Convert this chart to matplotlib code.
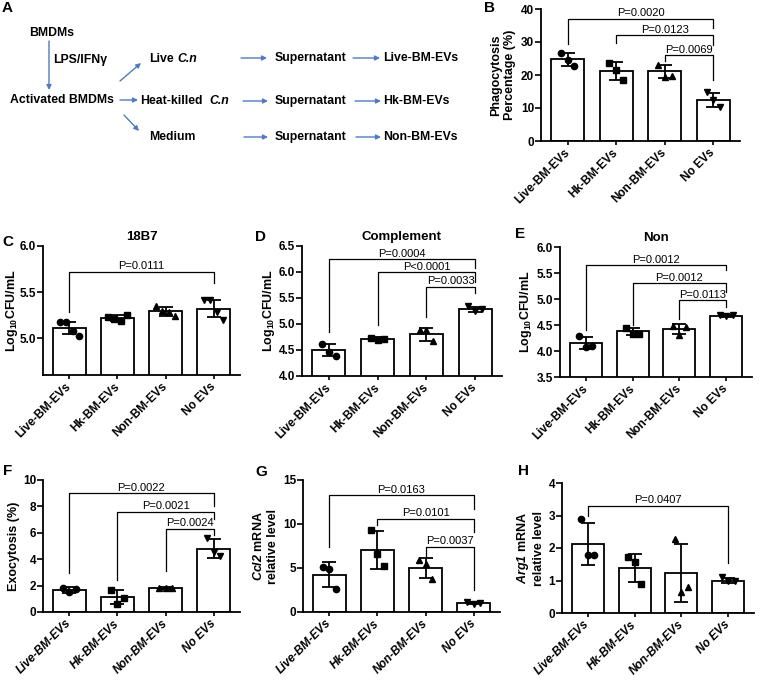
import numpy as np
import matplotlib
matplotlib.use("Agg")
import matplotlib.pyplot as plt

plt.rcParams["font.family"] = ["Liberation Sans", "DejaVu Sans"]
plt.rcParams["mathtext.fontset"] = "custom"
plt.rcParams["mathtext.rm"] = "Liberation Sans"
plt.rcParams["mathtext.bf"] = "Liberation Sans:bold"
plt.rcParams["mathtext.it"] = "Liberation Sans:italic"
plt.rcParams["mathtext.bfit"] = "Liberation Sans:italic:bold"

groups = ["Live-BM-EVs", "Hk-BM-EVs", "Non-BM-EVs", "No EVs"]

# B: phagocytosis
phago_mean = [24.8, 21.2, 21.1, 12.4]
phago_sd = [2.0, 2.8, 1.9, 2.2]
phago_pts = [[26.8, 24.5, 22.7], [23.7, 21.5, 18.5], [23.0, 19.4, 19.8], [14.9, 12.4, 10.4]]
phago_br = [(0, 3, 37.0, 29.4, 34.3, "P=0.0020"), (1, 3, 32.0, 29.6, 29.0, "P=0.0123"),
            (2, 3, 26.0, 24.2, 18.5, "P=0.0069")]

# C: 18B7
cfu_18b7_mean = [5.11, 5.22, 5.29, 5.32]
cfu_18b7_sd = [0.065, 0.03, 0.05, 0.095]
cfu_18b7_pts = [[5.18, 5.17, 5.08, 5.02], [5.23, 5.21, 5.19, 5.25],
                [5.35, 5.30, 5.28, 5.24], [5.41, 5.41, 5.28, 5.20]]
cfu_18b7_br = [(0, 3, 5.72, 5.28, 5.60, "P=0.0111")]

# D: complement
cfu_comp_mean = [4.50, 4.72, 4.80, 5.28]
cfu_comp_sd = [0.12, 0.03, 0.12, 0.05]
cfu_comp_pts = [[4.61, 4.47, 4.38], [4.74, 4.70, 4.72], [4.88, 4.88, 4.68], [5.34, 5.25, 5.29]]
cfu_comp_br = [(0, 3, 6.25, 4.85, 6.07, "P=0.0004"), (1, 3, 6.0, 4.98, 5.80, "P<0.0001"),
               (2, 3, 5.72, 5.14, 5.59, "P=0.0033")]

# E: non-opsonized
cfu_non_mean = [4.15, 4.38, 4.42, 4.67]
cfu_non_sd = [0.11, 0.065, 0.10, 0.02]
cfu_non_pts = [[4.28, 4.08, 4.10], [4.45, 4.33, 4.33], [4.48, 4.30, 4.46], [4.70, 4.68, 4.70]]
cfu_non_br = [(0, 3, 5.65, 4.40, 5.55, "P=0.0012"), (1, 3, 5.30, 4.50, 5.14, "P=0.0012"),
              (2, 3, 4.98, 4.62, 4.84, "P=0.0113")]

# F: exocytosis
exo_mean = [1.69, 1.13, 1.81, 4.80]
exo_sd = [0.22, 0.53, 0.05, 0.70]
exo_pts = [[1.80, 1.50, 1.75], [1.70, 0.63, 1.06], [1.80, 1.82, 1.80], [5.60, 4.55, 4.25]]
exo_br = [(0, 3, 9.0, 2.95, 8.0, "P=0.0022"), (1, 3, 7.6, 2.4, 7.05, "P=0.0021"),
          (2, 3, 6.3, 3.1, 5.85, "P=0.0024")]

# G: Ccl2
ccl2_mean = [4.23, 7.04, 5.0, 1.04]
ccl2_sd = [1.4, 2.2, 1.15, 0.12]
ccl2_pts = [[5.1, 4.9, 2.6], [9.3, 6.6, 5.2], [5.9, 5.5, 3.7], [1.15, 0.95, 1.02]]
ccl2_br = [(0, 3, 13.3, 7.4, 11.7, "P=0.0163"), (1, 3, 10.6, 9.9, 9.1, "P=0.0101"),
           (2, 3, 7.4, 6.3, 2.5, "P=0.0037")]

# H: Arg1
arg1_mean = [2.12, 1.39, 1.24, 1.00]
arg1_sd = [0.65, 0.43, 0.89, 0.07]
arg1_pts = [[2.88, 1.77, 1.77], [1.71, 1.58, 0.90], [2.28, 0.65, 0.80], [1.10, 0.98, 1.00]]
arg1_br = [(0, 3, 3.3, 2.97, 1.53, "P=0.0407")]

W, H = 760, 683
fig = plt.figure(figsize=(W / 100, H / 100), dpi=100)
markers = ["o", "s", "^", "v"]
jit = {3: [-0.14, 0.0, 0.14], 4: [-0.2, -0.07, 0.07, 0.2]}
blue = "#4a7bd0"


def add_ax(x0, x1, y0, y1):
    return fig.add_axes([x0 / W, 1 - y1 / H, (x1 - x0) / W, (y1 - y0) / H])


def bar_panel(ax, mean, sd, pts, brs, ylim, yticks, ylabel, lx, title=None, italic=False):
    x = np.arange(len(groups))
    ax.bar(x, mean, width=0.68, color="white", edgecolor="black", linewidth=1.3, zorder=1)
    ax.errorbar(x, mean, yerr=sd, fmt="none", ecolor="black", elinewidth=1.3,
                capsize=5, capthick=1.3, zorder=3)
    for i, p in enumerate(pts):
        ax.plot(x[i] + np.array(jit[len(p)]), p, markers[i], color="black", ms=4.5,
                ls="none", zorder=4, clip_on=False)
    for i, j, top, lb, rb, lab in brs:
        ax.plot([i, i, j, j], [lb, top, top, rb], color="black", lw=0.9, clip_on=False)
        ax.annotate(lab, xy=((i + j) / 2, top), xytext=(0, 0.3), textcoords="offset points",
                    ha="center", va="bottom", fontsize=8)
    ax.set_xlim(-0.55, 3.55)
    ax.set_ylim(*ylim)
    ax.set_yticks(yticks)
    ax.set_xticks(x)
    ax.set_xticklabels(groups, rotation=45, ha="right", va="center", rotation_mode="anchor",
                       fontweight="bold", fontsize=8.5, fontstyle="italic" if italic else "normal")
    for t in ax.get_yticklabels():
        t.set_fontweight("bold")
        t.set_fontsize(8.5)
    ax.tick_params(axis="x", length=3, width=1.2, pad=4)
    ax.tick_params(axis="y", length=4, width=1.2, pad=1)
    ax.spines["top"].set_visible(False)
    ax.spines["right"].set_visible(False)
    ax.spines["left"].set_linewidth(1.3)
    ax.spines["bottom"].set_linewidth(1.3)
    ax.set_ylabel(ylabel, fontweight="bold", fontsize=9)
    ax.yaxis.set_label_coords(lx, 0.5)
    ax.yaxis.label.set_va("center")
    if title:
        ax.set_title(title, fontweight="bold", fontsize=9.5, pad=4)


logcfu = r"Log$_\mathbf{10}$CFU/mL"

ax_b = add_ax(541, 740, 9, 141)
bar_panel(ax_b, phago_mean, phago_sd, phago_pts, phago_br, (0, 40), [0, 10, 20, 30, 40],
          "Phagocytosis\nPercentage (%)", -0.19)
ax_c = add_ax(43, 240, 246, 375)
bar_panel(ax_c, cfu_18b7_mean, cfu_18b7_sd, cfu_18b7_pts, cfu_18b7_br, (4.6, 6.0),
          [5.0, 5.5, 6.0], logcfu, -0.155, title="18B7")
ax_d = add_ax(302, 502, 246, 376)
bar_panel(ax_d, cfu_comp_mean, cfu_comp_sd, cfu_comp_pts, cfu_comp_br, (4.0, 6.5),
          [4.0, 4.5, 5.0, 5.5, 6.0, 6.5], logcfu, -0.165, title="Complement")
ax_e = add_ax(560, 752, 247, 377)
bar_panel(ax_e, cfu_non_mean, cfu_non_sd, cfu_non_pts, cfu_non_br, (3.5, 6.0),
          [3.5, 4.0, 4.5, 5.0, 5.5, 6.0], logcfu, -0.175, title="Non")
ax_f = add_ax(43, 240, 480, 612)
bar_panel(ax_f, exo_mean, exo_sd, exo_pts, exo_br, (0, 10), [0, 2, 4, 6, 8, 10],
          "Exocytosis (%)", -0.145, italic=True)
ax_g = add_ax(303, 500, 480, 612)
bar_panel(ax_g, ccl2_mean, ccl2_sd, ccl2_pts, ccl2_br, (0, 15), [0, 5, 10, 15],
          "$\\mathbfit{Ccl2}$ mRNA\nrelative level", -0.19, italic=True)
ax_h = add_ax(562, 754, 483, 613)
bar_panel(ax_h, arg1_mean, arg1_sd, arg1_pts, arg1_br, (0, 4), [0, 1, 2, 3, 4],
          "$\\mathbfit{Arg1}$ mRNA\nrelative level", -0.165, italic=True)

# panel letters
for lab, px, py in [("A", 2, 8), ("B", 484, 8), ("C", 2, 242), ("D", 255, 237), ("E", 515, 234),
                    ("F", 3, 471), ("G", 255, 472), ("H", 518, 471)]:
    fig.text(px / W, 1 - py / H, lab, fontsize=11, fontweight="bold", ha="left", va="center")

# A: schematic
ax_a = add_ax(0, 510, 0, 170)
ax_a.set_xlim(0, 510)
ax_a.set_ylim(170, 0)
ax_a.axis("off")
txt = dict(fontsize=8.8, fontweight="bold", va="center")
ax_a.text(52, 33, "BMDMs", ha="center", **txt)
ax_a.text(53, 60, "LPS/IFN\u03b3", ha="left", **txt)
ax_a.text(62, 100, "Activated BMDMs", ha="center", **txt)
t_live = ax_a.text(149, 59, "Live", ha="left", **txt)
ax_a.annotate("C.n", xy=(1, 0.5), xycoords=t_live, xytext=(3, 0), textcoords="offset points",
              ha="left", fontstyle="italic", **txt)
t_hk = ax_a.text(140, 101, "Heat-killed", ha="left", **txt)
ax_a.annotate("C.n", xy=(1, 0.5), xycoords=t_hk, xytext=(5, 0), textcoords="offset points",
              ha="left", fontstyle="italic", **txt)
ax_a.text(149, 137, "Medium", ha="left", **txt)
for yy, lab in zip([58, 101, 137], ["Live-BM-EVs", "Hk-BM-EVs", "Non-BM-EVs"]):
    ax_a.text(311, yy, "Supernatant", ha="center", **txt)
    ax_a.text(383, yy, lab, ha="left", **txt)
arrows = [((49, 41), (49, 90)), ((120, 81), (141, 63)), ((120, 100), (138, 100)),
          ((124, 115), (139, 131)),
          ((241, 58), (267, 58)), ((243, 101), (268, 101)), ((244, 137), (268, 137)),
          ((353, 58), (380, 58)), ((355, 101), (381, 101)), ((356, 137), (381, 137))]
for s, e in arrows:
    ax_a.annotate("", xy=e, xytext=s,
                  arrowprops=dict(arrowstyle="-|>", color=blue, lw=1.0, mutation_scale=7,
                                  shrinkA=0, shrinkB=0))

fig.savefig("out.png", dpi=100)
